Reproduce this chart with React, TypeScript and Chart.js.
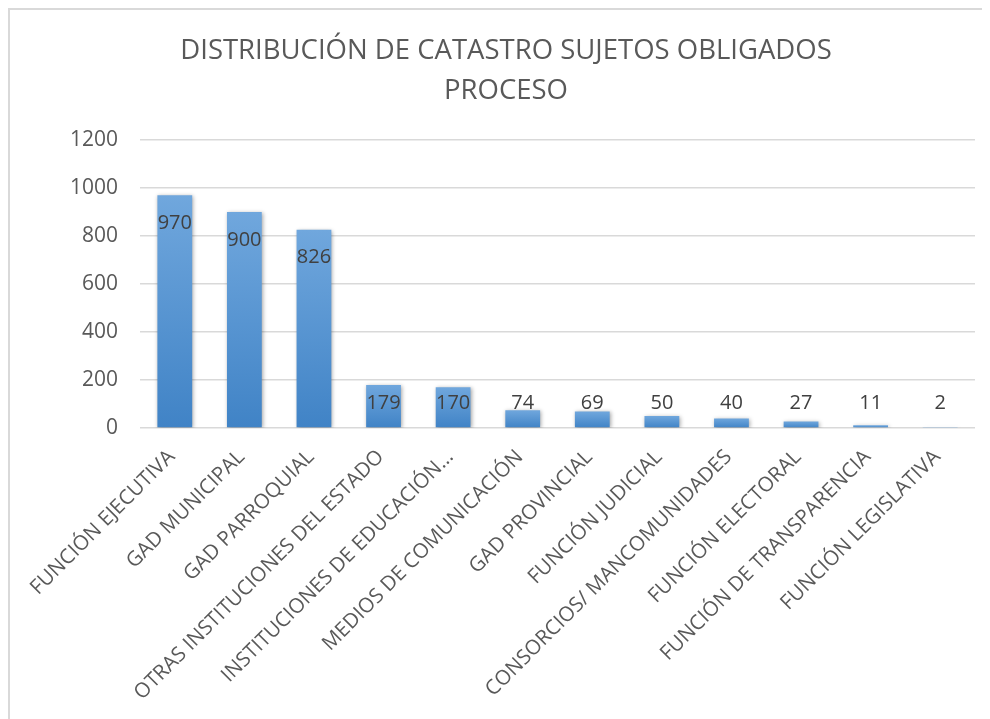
import React, { useEffect, useRef } from "react";
import { Chart, registerables } from "chart.js";

Chart.register(...registerables);

const titleLines = ["DISTRIBUCIÓN DE CATASTRO SUJETOS OBLIGADOS", "PROCESO"];

const categories = [
  "FUNCIÓN EJECUTIVA",
  "GAD MUNICIPAL",
  "GAD PARROQUIAL",
  "OTRAS INSTITUCIONES DEL ESTADO",
  "INSTITUCIONES DE EDUCACIÓN…",
  "MEDIOS DE COMUNICACIÓN",
  "GAD PROVINCIAL",
  "FUNCIÓN JUDICIAL",
  "CONSORCIOS/ MANCOMUNIDADES",
  "FUNCIÓN ELECTORAL",
  "FUNCIÓN DE TRANSPARENCIA",
  "FUNCIÓN LEGISLATIVA",
];

const values = [970, 900, 826, 179, 170, 74, 69, 50, 40, 27, 11, 2];

const yMin = 0;
const yMax = 1200;
const yStep = 200;

const FONT = "'Open Sans', sans-serif";

const barEffects = {
  id: "barEffects",
  beforeDatasetsDraw(chart: any) {
    const ctx = chart.ctx;
    ctx.save();
    ctx.shadowColor = "rgba(0,0,0,0.35)";
    ctx.shadowBlur = 4;
    ctx.shadowOffsetX = 1;
    ctx.shadowOffsetY = 1;
  },
  afterDatasetsDraw(chart: any) {
    const ctx = chart.ctx;
    ctx.restore();
    const meta = chart.getDatasetMeta(0);
    const base = chart.scales.y.getPixelForValue(0);
    ctx.save();
    ctx.font = `20px ${FONT}`;
    ctx.fillStyle = "#404040";
    ctx.textAlign = "center";
    ctx.textBaseline = "middle";
    meta.data.forEach((bar: any, i: number) => {
      const y = Math.min(bar.y + 28, base - 25);
      ctx.fillText(String(values[i]), bar.x, y);
    });
    ctx.restore();
  },
};

export default function App() {
  const ref = useRef<HTMLCanvasElement | null>(null);

  useEffect(() => {
    if (!ref.current) return;
    const chart = new Chart(ref.current, {
      type: "bar",
      data: {
        labels: categories,
        datasets: [
          {
            data: values,
            backgroundColor: (c: any) => {
              const ch = c.chart;
              const sy = ch.scales && ch.scales.y;
              if (!sy || c.type !== "data") return "#5b9bd5";
              const y0 = sy.getPixelForValue(0);
              const y1 = sy.getPixelForValue(c.raw);
              if (!isFinite(y0) || !isFinite(y1) || y0 === y1) return "#5b9bd5";
              const g = ch.ctx.createLinearGradient(0, y1, 0, y0);
              g.addColorStop(0, "#70a7dd");
              g.addColorStop(1, "#4083c6");
              return g;
            },
            borderWidth: 0,
            barPercentage: 0.5,
            categoryPercentage: 1,
          },
        ],
      },
      options: {
        responsive: false,
        animation: false,
        layout: { padding: { left: 27, right: 15, top: 0, bottom: 0 } },
        plugins: {
          legend: { display: false },
          tooltip: { enabled: false },
          title: {
            display: true,
            text: titleLines,
            color: "#595959",
            font: { family: FONT, size: 27.5, weight: "normal", lineHeight: 1.45 },
            padding: { top: 21.5, bottom: 28.8 },
          },
        },
        scales: {
          x: {
            grid: { display: false, drawTicks: false },
            border: { display: false },
            ticks: {
              color: "#595959",
              font: { family: FONT, size: 20.5 },
              minRotation: 45,
              maxRotation: 45,
              autoSkip: false,
              padding: 17,
              labelOffset: -3,
            },
            afterFit: (s: any) => {
              s.height = 291;
            },
          },
          y: {
            min: yMin,
            max: yMax,
            grid: { color: "#d9d9d9", lineWidth: 1.5, drawTicks: false },
            border: { display: false },
            ticks: {
              stepSize: yStep,
              color: "#595959",
              font: { family: FONT, size: 21 },
              padding: 22,
              callback: (v: any) => String(v),
            },
            afterFit: (s: any) => {
              s.width = 103;
            },
          },
        },
      },
      plugins: [barEffects],
    });
    return () => chart.destroy();
  }, []);

  return (
    <div
      style={{
        width: 982,
        height: 711,
        borderLeft: "2px solid #d9d9d9",
        borderTop: "2px solid #d9d9d9",
        boxSizing: "border-box",
        overflow: "hidden",
        background: "#fff",
      }}
    >
      <canvas ref={ref} width={980} height={709} style={{ width: 980, height: 709, display: "block" }} />
    </div>
  );
}
